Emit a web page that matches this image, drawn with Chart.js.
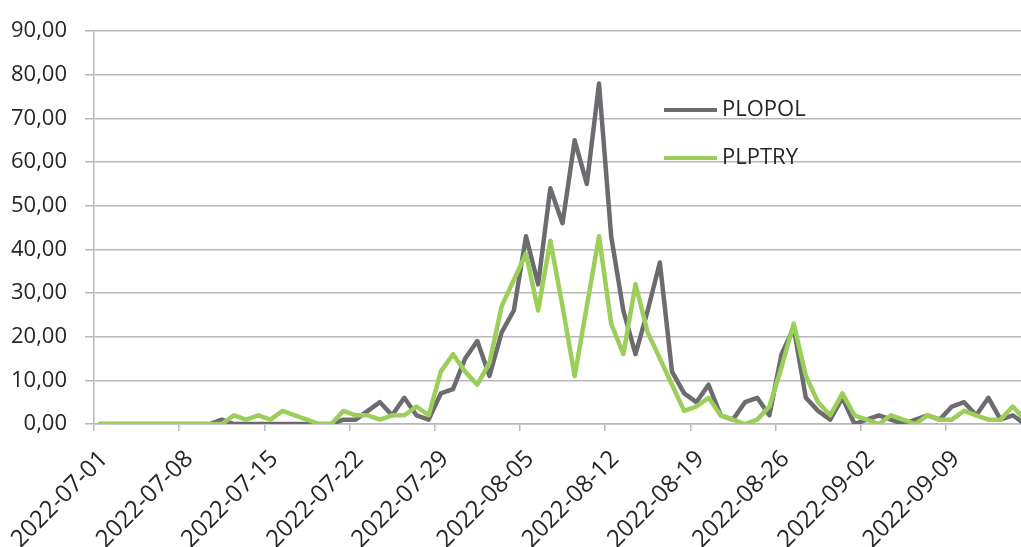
<!DOCTYPE html>
<html>
<head>
<meta charset="utf-8">
<script src="https://cdn.jsdelivr.net/npm/chart.js@4/dist/chart.umd.min.js"></script>
<style>
  html, body { margin: 0; padding: 0; background: #fff; overflow: hidden; }
  #wrap { width: 1031px; height: 547px; position: relative; }
</style>
</head>
<body>
<div id="wrap"><canvas id="myChart"></canvas></div>
<script>
// daily dates from 2022-07-01
labels = [];
for (var d = new Date(Date.UTC(2022, 6, 1)); labels.length < 77; d.setUTCDate(d.getUTCDate() + 1)) {
    labels.push(d.toISOString().slice(0, 10));
}

plopol = [0, 0, 0, 0, 0, 0, 0, 0, 0, 0,
          1, 0, 0, 0, 0, 0, 0, 0, 0, 0,
          1, 1, 3, 5, 2, 6, 2, 1, 7, 8,
          15, 19, 11, 21, 26, 43, 32, 54, 46, 65,
          55, 78, 43, 26, 16, 26, 37, 12, 7, 5,
          9, 2, 1, 5, 6, 2, 16, 22, 6, 3,
          1, 6, 0, 1, 2, 1, 0, 1, 2, 1,
          4, 5, 2, 6, 1, 2, 0];

plptry = [0, 0, 0, 0, 0, 0, 0, 0, 0, 0,
          0, 2, 1, 2, 1, 3, 2, 1, 0, 0,
          3, 2, 2, 1, 2, 2, 4, 2, 12, 16,
          12, 9, 14, 27, 33, 39, 26, 42, 27, 11,
          27, 43, 23, 16, 32, 21, 15, 9, 3, 4,
          6, 2, 1, 0, 1, 4, 13, 23, 11, 5,
          2, 7, 2, 1, 0, 2, 1, 0, 2, 1,
          1, 3, 2, 1, 1, 4, 1];

yTicks = [0, 10, 20, 30, 40, 50, 60, 70, 80, 90];

var GRAY = '#6c6c70';
var GREEN = '#9bcf5a';
var GRID = '#b8b8b8';
var TEXT = '#262626';
var FONT = "'Open Sans', 'Liberation Sans', sans-serif";

// legend drawn inside the plot, like the original
var insideLegend = {
    id: 'insideLegend',
    afterDraw: function (chart) {
        var ctx = chart.ctx;
        var rows = [110, 158];
        ctx.save();
        chart.data.datasets.forEach(function (ds, i) {
            var y = rows[ds.legendRow];
            ctx.strokeStyle = ds.borderColor;
            ctx.lineWidth = 4;
            ctx.beginPath();
            ctx.moveTo(664, y);
            ctx.lineTo(717, y);
            ctx.stroke();
            ctx.fillStyle = TEXT;
            ctx.font = '22px ' + FONT;
            ctx.textBaseline = 'middle';
            ctx.textAlign = 'left';
            ctx.fillText(ds.label, 722, y);
        });
        ctx.restore();
    }
};

function renderChart() {
    var ctx = document.getElementById("myChart").getContext('2d');
    new Chart(ctx, {
        type: 'line',
        data: {
            labels: labels,
            datasets: [{
                    label: 'PLOPOL',
                    data: plopol,
                    borderColor: GRAY,
                    order: 1,
                    legendRow: 0,
                },
                {
                    label: 'PLPTRY',
                    data: plptry,
                    borderColor: GREEN,
                    order: 0,
                    legendRow: 1,
                },
            ]
        },
        options: {
            responsive: true,
            maintainAspectRatio: false,
            animation: false,
            layout: { padding: { top: 22, right: 0, left: 0, bottom: 0 } },
            elements: {
                line: { borderWidth: 4.5, tension: 0, borderJoinStyle: 'round', borderCapStyle: 'round' },
                point: { radius: 0, hoverRadius: 0 }
            },
            plugins: { legend: { display: false }, tooltip: { enabled: false } },
            scales: {
                x: {
                    offset: true,
                    afterFit: function (s) { s.height = 123; s.paddingLeft = 0; s.paddingRight = 0; },
                    grid: {
                        offset: true,
                        drawOnChartArea: false,
                        tickLength: 7,
                        lineWidth: 1.5,
                        color: function (c) { return c.index % 7 === 0 ? GRID : 'rgba(0,0,0,0)'; }
                    },
                    border: { display: true, color: GRID, width: 1.5 },
                    ticks: {
                        autoSkip: false,
                        minRotation: 45,
                        maxRotation: 45,
                        padding: 14,
                        labelOffset: 4,
                        color: TEXT,
                        font: { family: FONT, size: 24 },
                        callback: function (v, i) { return i % 7 === 0 ? labels[i] : ''; }
                    }
                },
                y: {
                    min: 0,
                    max: 90,
                    afterFit: function (s) { s.width = 94; },
                    afterBuildTicks: function (s) { s.ticks = yTicks.map(function (v) { return { value: v }; }); },
                    grid: { color: GRID, lineWidth: 1.5, tickLength: 9 },
                    border: { display: true, color: GRID, width: 1.5 },
                    ticks: {
                        padding: 18,
                        color: TEXT,
                        font: { family: FONT, size: 22 },
                        callback: function (v) { return v.toFixed(2).replace('.', ','); }
                    }
                }
            }
        },
        plugins: [insideLegend]
    });
}

renderChart();
</script>
</body>
</html>
